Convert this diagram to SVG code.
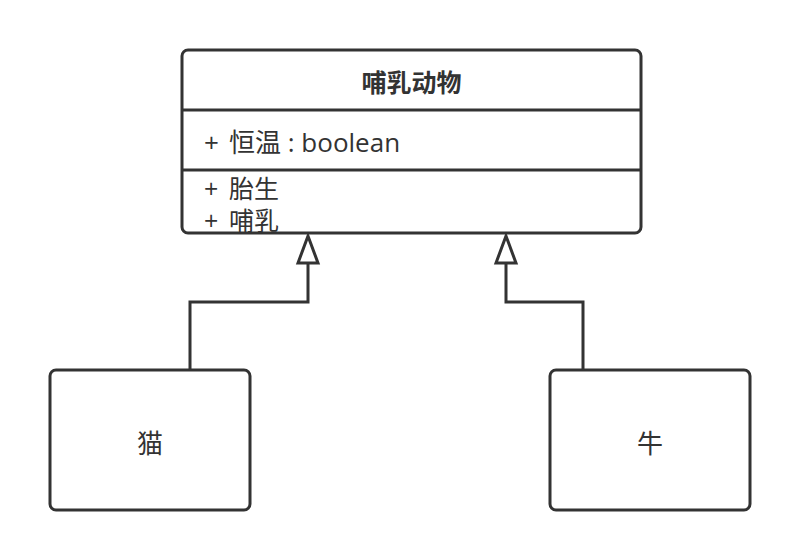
<svg xmlns="http://www.w3.org/2000/svg" width="800" height="560" viewBox="0 0 800 560">
<style>
.box{fill:#fff;stroke:#333;stroke-width:3}
.sep{stroke:#333;stroke-width:3}
.edge{fill:none;stroke:#333;stroke-width:3}
.head{fill:#fff;stroke:#333;stroke-width:3;stroke-linejoin:miter}
text{font-family:"Open Sans","Noto Sans","Noto Sans CJK SC",sans-serif;fill:#333;font-size:26px}
.title{font-weight:bold;text-anchor:middle;font-size:25px}
.c{text-anchor:middle}
.m{font-size:25px}
</style>
<rect width="800" height="560" fill="#fff"/>
<g id="mammal">
<rect class="box" x="182" y="50" width="459" height="183" rx="6"/>
<line class="sep" x1="182" y1="110" x2="641" y2="110"/>
<line class="sep" x1="182" y1="170" x2="641" y2="170"/>
<text class="title" x="411.5" y="92">哺乳动物</text>
<text x="204" y="152">+<tspan x="229">恒温 : boolean</tspan></text>
<text class="m" x="204" y="198">+<tspan x="229">胎生</tspan></text>
<text class="m" x="204" y="230">+<tspan x="229">哺乳</tspan></text>
</g>
<g id="cat">
<rect class="box" x="50" y="370" width="200" height="140" rx="6"/>
<text class="c" x="150" y="453">猫</text>
</g>
<g id="cow">
<rect class="box" x="550" y="370" width="200" height="140" rx="6"/>
<text class="c" x="650" y="453">牛</text>
</g>
<g id="connectors">
<polyline class="edge" points="190,370 190,302 308,302 308,263"/>
<polygon class="head" points="308,236 298,263 318,263"/>
<polyline class="edge" points="583,370 583,302 506,302 506,263"/>
<polygon class="head" points="506,236 496,263 516,263"/>
</g>
</svg>
